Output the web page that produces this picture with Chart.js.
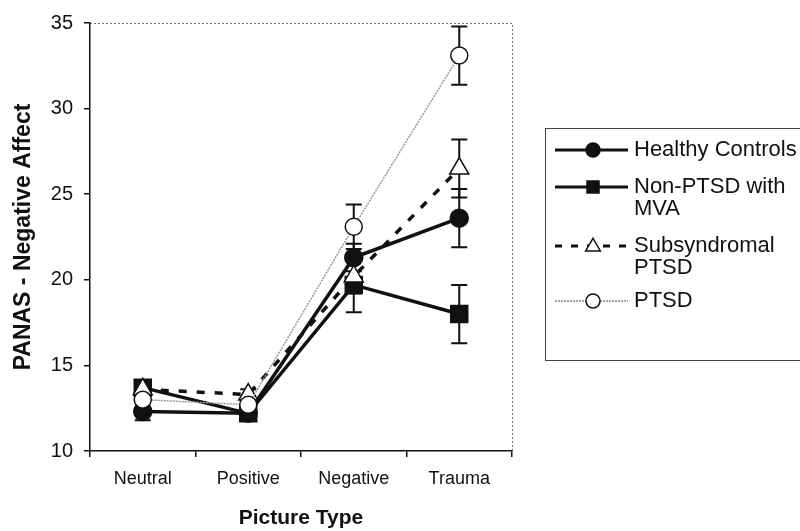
<!DOCTYPE html>
<html>
<head>
<meta charset="utf-8">
<script src="https://cdn.jsdelivr.net/npm/chart.js@4.4.0/dist/chart.umd.min.js"></script>
<style>
  html, body { margin: 0; padding: 0; background: #fff; }
  #wrap { width: 800px; height: 531px; position: relative; }
</style>
</head>
<body>
<div id="wrap"><canvas id="chart" width="800" height="531"></canvas></div>
<script>
const pictureTypes = ['Neutral', 'Positive', 'Negative', 'Trauma'];

// group means
const healthyControls = [12.3, 12.2, 21.3, 23.6];
const nonPtsdMva = [13.7, 12.2, 19.7, 18.0];
const subsyndromalPtsd = [13.6, 13.3, 20.2, 26.5];
const ptsd = [13.0, 12.7, 23.1, 33.1];

// standard errors (whiskers)
const healthyErr = [0.5, 0.3, 0.8, 1.7];
const nonPtsdErr = [0.4, 0.3, 1.6, 1.7];
const subsyndromalErr = [0.4, 0.3, 1.0, 1.7];
const ptsdErr = [0.4, 0.3, 1.3, 1.7];

const yTicks = [10, 15, 20, 25, 30, 35];

const FONT = "'Liberation Sans', Arial, sans-serif";

// whiskers drawn through the chart's scales
const errorBars = {
    id: 'errorBars',
    beforeDatasetsDraw(chart) {
        const ctx = chart.ctx;
        const x = chart.scales.x, y = chart.scales.y;
        ctx.save();
        ctx.strokeStyle = '#111';
        ctx.lineWidth = 2;
        chart.data.datasets.forEach(ds => {
            ds.data.forEach((v, i) => {
                const e = ds.errors[i];
                const px = x.getPixelForValue(i);
                const top = y.getPixelForValue(v + e);
                const bot = y.getPixelForValue(v - e);
                ctx.beginPath();
                ctx.moveTo(px, top); ctx.lineTo(px, bot);
                ctx.moveTo(px - 8, top); ctx.lineTo(px + 8, top);
                ctx.moveTo(px - 8, bot); ctx.lineTo(px + 8, bot);
                ctx.stroke();
            });
        });
        ctx.restore();
    }
};

// dotted frame on top and right of the plot
const plotFrame = {
    id: 'plotFrame',
    beforeDraw(chart) {
        const a = chart.chartArea, ctx = chart.ctx;
        ctx.save();
        ctx.strokeStyle = '#777';
        ctx.lineWidth = 1;
        ctx.setLineDash([2, 2]);
        ctx.beginPath();
        ctx.moveTo(a.left, a.top + 0.5);
        ctx.lineTo(a.right + 0.5, a.top + 0.5);
        ctx.lineTo(a.right + 0.5, a.bottom);
        ctx.stroke();
        ctx.restore();
    }
};

function drawMarker(ctx, style, x, y, r) {
    ctx.save();
    ctx.setLineDash([]);
    ctx.lineWidth = 1.5;
    ctx.strokeStyle = '#111';
    ctx.beginPath();
    if (style === 'circle') {
        ctx.arc(x, y, r, 0, Math.PI * 2);
        ctx.fillStyle = '#111';
    } else if (style === 'rect') {
        ctx.rect(x - r, y - r, 2 * r, 2 * r);
        ctx.fillStyle = '#111';
    } else if (style === 'triangle') {
        ctx.moveTo(x, y - r * 1.1);
        ctx.lineTo(x + r * 1.05, y + r * 0.7);
        ctx.lineTo(x - r * 1.05, y + r * 0.7);
        ctx.closePath();
        ctx.fillStyle = '#fff';
    } else {
        ctx.arc(x, y, r, 0, Math.PI * 2);
        ctx.fillStyle = '#fff';
    }
    ctx.fill();
    ctx.stroke();
    ctx.restore();
}

// legend box to the right, partly cut by the canvas edge
const sideLegend = {
    id: 'sideLegend',
    afterDraw(chart) {
        const ctx = chart.ctx;
        ctx.save();
        ctx.strokeStyle = '#444';
        ctx.lineWidth = 1;
        ctx.strokeRect(545.5, 128.5, 300, 232);

        const entries = [
            { y: 150, lines: ['Healthy Controls'], marker: 'circle', width: 3, dash: [], color: '#111' },
            { y: 187, lines: ['Non-PTSD with', 'MVA'], marker: 'rect', width: 3, dash: [], color: '#111' },
            { y: 246, lines: ['Subsyndromal', 'PTSD'], marker: 'triangle', width: 3, dash: [7, 9], color: '#111' },
            { y: 301, lines: ['PTSD'], marker: 'open', width: 1.5, dash: [2, 1], color: '#888' }
        ];
        entries.forEach(e => {
            ctx.save();
            ctx.strokeStyle = e.color;
            ctx.lineWidth = e.width;
            ctx.setLineDash(e.dash);
            ctx.beginPath();
            ctx.moveTo(555, e.y);
            ctx.lineTo(628, e.y);
            ctx.stroke();
            ctx.restore();
            drawMarker(ctx, e.marker, 593, e.y, e.marker === 'rect' ? 6 : 7);
            ctx.fillStyle = '#111';
            ctx.font = '22px ' + FONT;
            ctx.textBaseline = 'middle';
            ctx.textAlign = 'left';
            e.lines.forEach((t, k) => ctx.fillText(t, 634, e.y + k * 22));
        });
        ctx.restore();
    }
};

function series(label, data, errors, opts) {
    return Object.assign({
        label: label,
        data: data,
        errors: errors,
        borderColor: '#111',
        backgroundColor: '#111',
        pointBorderColor: '#111',
        pointBorderWidth: 1.5,
        borderWidth: 3.5,
        tension: 0,
        fill: false
    }, opts);
}

new Chart(document.getElementById('chart'), {
    type: 'line',
    data: {
        labels: pictureTypes,
        datasets: [
            series('Healthy Controls', healthyControls, healthyErr, {
                order: 3, pointStyle: 'circle', pointRadius: 9, pointBackgroundColor: '#111'
            }),
            series('Non-PTSD with MVA', nonPtsdMva, nonPtsdErr, {
                order: 2, pointStyle: 'rect', pointRadius: 12, pointBackgroundColor: '#111'
            }),
            series('Subsyndromal PTSD', subsyndromalPtsd, subsyndromalErr, {
                order: 1, pointStyle: 'triangle', pointRadius: 11, pointBackgroundColor: '#fff',
                borderDash: [8, 10], borderWidth: 3.5
            }),
            series('PTSD', ptsd, ptsdErr, {
                order: 0, pointStyle: 'circle', pointRadius: 8.5, pointBackgroundColor: '#fff',
                borderColor: '#999', borderWidth: 1.5, borderDash: [2, 1]
            })
        ]
    },
    options: {
        responsive: false,
        animation: false,
        layout: { padding: { left: 0, top: 22, right: 288, bottom: 0 } },
        plugins: {
            legend: { display: false },
            tooltip: { enabled: false }
        },
        scales: {
            x: {
                offset: true,
                afterFit: s => { s.height = 80; },
                grid: {
                    offset: true,
                    drawOnChartArea: false,
                    drawTicks: true,
                    tickLength: 6,
                    color: '#111',
                    lineWidth: 1.5
                },
                border: { color: '#111', width: 1.5 },
                ticks: {
                    color: '#111',
                    padding: 11,
                    font: { family: FONT, size: 18 }
                },
                title: {
                    display: true,
                    text: 'Picture Type',
                    color: '#111',
                    padding: { top: 0, bottom: 0 },
                    font: { family: FONT, size: 21, weight: 'bold' }
                }
            },
            y: {
                min: 10,
                max: 35,
                afterFit: s => { s.width = 90; },
                afterBuildTicks: s => { s.ticks = yTicks.map(v => ({ value: v })); },
                grid: {
                    drawOnChartArea: false,
                    drawTicks: true,
                    tickLength: 6,
                    color: '#111',
                    lineWidth: 1.5
                },
                border: { color: '#111', width: 1.5 },
                ticks: {
                    color: '#111',
                    padding: 11,
                    font: { family: FONT, size: 20 }
                },
                title: {
                    display: true,
                    text: 'PANAS - Negative Affect',
                    color: '#111',
                    padding: { top: 10, bottom: 0 },
                    font: { family: FONT, size: 23, weight: 'bold' }
                }
            }
        }
    },
    plugins: [plotFrame, errorBars, sideLegend]
});
</script>
</body>
</html>
